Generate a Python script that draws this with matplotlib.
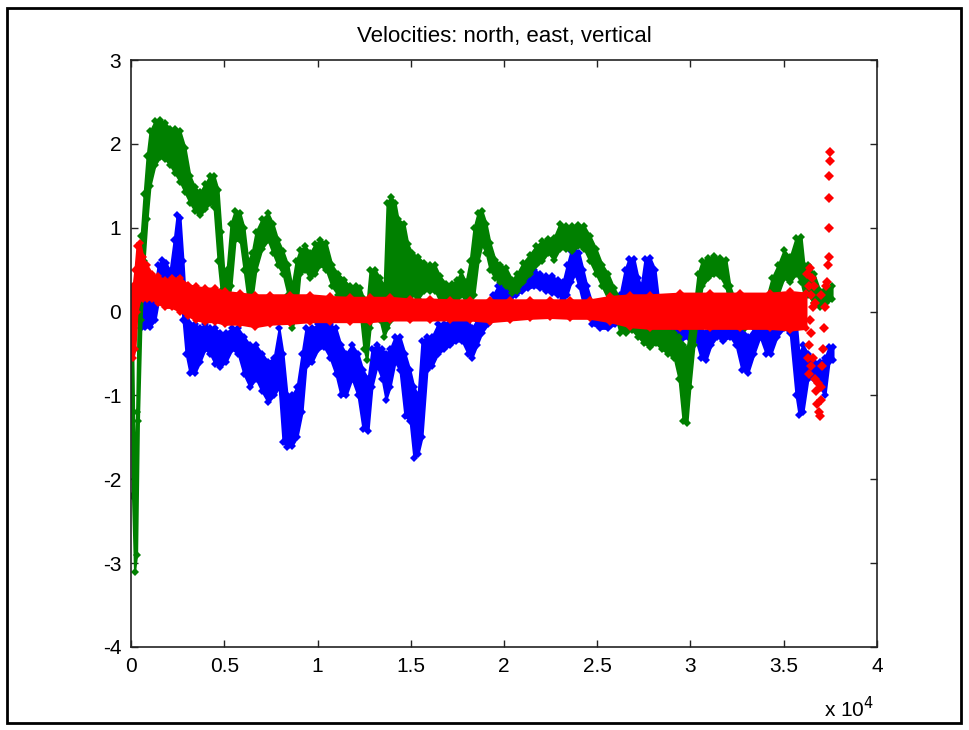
import numpy as np
import matplotlib.pyplot as plt
from matplotlib.patches import Rectangle

plt.rcParams['font.family'] = ['Liberation Sans', 'DejaVu Sans']
plt.rcParams['axes.unicode_minus'] = False

# north velocity: sample index, lower and upper edge of the plotted band
north_t = [540, 750, 1020, 1290, 1450, 1660, 1880, 2090, 2310, 2470, 2630, 2790, 2950,
           3160, 3430, 3700, 3970, 4240, 4500, 4770, 5090, 5420, 5740, 6060, 6380, 6700,
           7020, 7350, 7670, 7940, 8150, 8370, 8630, 8900, 9170, 9380, 9710, 10030, 10350,
           10670, 10990, 11260, 11530, 11850, 12170, 12440, 12710, 12920, 13190, 13460,
           13670, 13890, 14160, 14420, 14690, 14960, 15170, 15390, 15600, 15870, 16140,
           16460, 16780, 17110, 17430, 17750, 18070, 18280, 18550, 18820, 19140, 19410,
           19680, 20000, 20320, 20640, 20970, 21290, 21610, 21930, 22250, 22570, 22900,
           23160, 23380, 23590, 23810, 24020, 24240, 24450, 24720, 25150, 25580, 25950,
           26220, 26490, 26700, 26970, 27190, 27350, 27560, 27830, 28100, 28310, 28630,
           29010, 29440, 29870, 30240, 30560, 30830, 31100, 31420, 31740, 32120, 32440,
           32760, 33080, 33410, 33730, 34050, 34320, 34640, 35010, 35340, 35660, 35820,
           36030, 36300, 36620, 36940, 37210, 37430, 37640]
north_lo = [-0.20, -0.18, -0.18, -0.10, 0.10, 0.30, 0.30, 0.20, 0.30, 0.50, 0.30, -0.10, -0.50,
            -0.73, -0.73, -0.60, -0.45, -0.50, -0.62, -0.66, -0.60, -0.45, -0.50, -0.75, -0.90, -0.80,
            -0.95, -1.08, -1.00, -0.90, -1.55, -1.62, -1.60, -1.50, -1.20, -0.65, -0.60, -0.45, -0.42,
            -0.55, -0.75, -1.00, -1.00, -0.80, -1.00, -1.40, -1.42, -0.90, -0.65, -0.80,
            -1.05, -0.90, -0.60, -0.70, -1.25, -1.30, -1.75, -1.70, -1.50, -0.70, -0.65,
            -0.50, -0.45, -0.40, -0.35, -0.35, -0.50, -0.55, -0.40, -0.25, -0.15, -0.05,
            0.12, 0.15, 0.15, 0.20, 0.25, 0.28, 0.30, 0.28, 0.25, 0.22, 0.20,
            0.15, 0.20, 0.35, 0.45, 0.30, 0.10, 0.00, -0.15, -0.20, -0.20, -0.15,
            -0.10, 0.00, 0.10, 0.10, 0.00, 0.00, 0.10, 0.10, 0.00, -0.10, -0.20,
            -0.30, -0.35, -0.30, -0.30, -0.55, -0.58, -0.40, -0.30, -0.35, -0.30, -0.40,
            -0.70, -0.73, -0.50, -0.30, -0.50, -0.50, -0.30, -0.20, -0.25, -1.00, -1.23,
            -1.20, -0.80, -0.80, -0.90, -1.00, -0.60, -0.58]
north_hi = [0.10, 0.12, 0.15, 0.30, 0.55, 0.62, 0.58, 0.48, 0.85, 1.15, 1.12, 0.60, 0.00,
            -0.15, -0.15, -0.20, -0.15, -0.20, -0.20, -0.25, -0.25, -0.20, -0.20, -0.30, -0.40, -0.40,
            -0.50, -0.60, -0.55, -0.20, -0.50, -1.00, -1.00, -0.90, -0.50, -0.20, -0.20, -0.15, -0.12,
            -0.15, -0.20, -0.40, -0.50, -0.40, -0.50, -0.70, -0.80, -0.45, -0.40, -0.45,
            -0.50, -0.45, -0.30, -0.30, -0.50, -0.70, -0.90, -1.00, -0.35, -0.30, -0.30,
            -0.15, -0.15, -0.10, -0.10, -0.05, -0.10, -0.20, -0.10, 0.00, 0.05, 0.20,
            0.30, 0.32, 0.30, 0.38, 0.42, 0.45, 0.50, 0.45, 0.42, 0.42, 0.38,
            0.35, 0.55, 0.72, 0.72, 0.70, 0.50, 0.30, 0.10, 0.05, 0.05, 0.10,
            0.20, 0.50, 0.63, 0.63, 0.40, 0.30, 0.63, 0.64, 0.50, 0.10, 0.00,
            -0.05, -0.10, 0.00, 0.00, -0.20, -0.25, -0.10, -0.05, -0.10, -0.05, -0.10,
            -0.20, -0.30, -0.20, -0.05, -0.10, -0.15, -0.05, 0.00, 0.00, -0.10, -0.50,
            -0.40, -0.50, -0.60, -0.60, -0.55, -0.42, -0.42]

# east velocity
east_t = [0, 80, 190, 300, 400, 540, 700, 860, 1020, 1290, 1550, 1820, 2090, 2360, 2630,
          2900, 3160, 3430, 3700, 3970, 4240, 4450, 4670, 4830, 4990, 5150, 5360, 5580,
          5850, 6060, 6270, 6490, 6700, 7020, 7350, 7610, 7880, 8150, 8420, 8630, 8850,
          9060, 9330, 9600, 9870, 10130, 10460, 10780, 11100, 11420, 11740, 12070, 12280,
          12490, 12650, 12820, 13080, 13350, 13570, 13730, 13940, 14160, 14320, 14640,
          14850, 15070, 15390, 15710, 16030, 16300, 16570, 16890, 17210, 17480, 17700,
          17960, 18180, 18390, 18610, 18820, 19040, 19250, 19520, 19790, 20110, 20430,
          20700, 21020, 21390, 21720, 22040, 22360, 22680, 23000, 23330, 23650, 23970,
          24290, 24610, 24930, 25260, 25580, 25900, 26220, 26540, 26860, 27190, 27510,
          27830, 28150, 28470, 28790, 29120, 29380, 29600, 29810, 29970, 30190, 30400,
          30620, 30940, 31260, 31580, 31900, 32120, 32440, 32920, 33460, 34000, 34370,
          34690, 35010, 35340, 35660, 35930, 36090, 36300, 36620, 36940, 37270, 37590]
east_lo = [-0.40, -2.20, -3.10, -2.90, -1.30, -0.10, 0.60, 1.10, 1.50, 1.75, 1.84, 1.82, 1.75, 1.65, 1.55,
           1.42, 1.30, 1.20, 1.15, 1.22, 1.30, 1.25, 0.60, 0.25, 0.05, 0.05, 0.30, 0.85,
           0.85, 0.50, 0.15, 0.15, 0.50, 0.75, 0.85, 0.70, 0.55, 0.45, 0.20, -0.20, -0.05,
           0.45, 0.50, 0.40, 0.45, 0.55, 0.50, 0.30, 0.20, 0.10, 0.05, 0.05, 0.00,
           -0.45, -0.58, -0.20, 0.20, -0.10, -0.30, -0.20, -0.10, -0.05, 0.00, 0.10,
           0.15, 0.20, 0.15, 0.25, 0.25, 0.25, 0.12, 0.10, 0.10, 0.12, 0.20,
           0.12, 0.10, 0.20, 0.60, 0.80, 0.70, 0.50, 0.40, 0.35, 0.30, 0.22,
           0.25, 0.35, 0.45, 0.55, 0.60, 0.70, 0.62, 0.75, 0.75, 0.72, 0.78,
           0.75, 0.60, 0.45, 0.30, 0.15, 0.00, -0.25, -0.25, -0.22, -0.30, -0.38,
           -0.42, -0.38, -0.45, -0.50, -0.55, -0.80, -1.30, -1.33, -0.90, -0.40, -0.05,
           0.30, 0.40, 0.45, 0.42, 0.30, 0.00, -0.15, -0.20, -0.15, -0.15, -0.10,
           0.20, 0.40, 0.35, 0.45, 0.35, 0.20, 0.20, 0.10, 0.05, 0.10, 0.15]
east_hi = [0.10, -0.20, -2.00, -1.20, 0.20, 0.90, 1.40, 1.85, 2.15, 2.27, 2.28, 2.25, 2.18, 2.18, 2.15,
           1.95, 1.62, 1.48, 1.42, 1.52, 1.62, 1.62, 1.45, 0.95, 0.45, 0.50, 1.05, 1.20,
           1.17, 1.00, 0.60, 0.70, 0.95, 1.10, 1.17, 1.05, 0.85, 0.72, 0.55, 0.30, 0.60,
           0.73, 0.78, 0.70, 0.80, 0.85, 0.82, 0.55, 0.45, 0.38, 0.30, 0.30, 0.28,
           0.15, 0.10, 0.50, 0.50, 0.40, 0.30, 1.30, 1.37, 1.30, 1.10, 1.05,
           0.80, 0.70, 0.65, 0.58, 0.55, 0.55, 0.42, 0.33, 0.33, 0.38, 0.47,
           0.35, 0.60, 1.00, 1.18, 1.20, 1.05, 0.82, 0.62, 0.56, 0.52, 0.38,
           0.45, 0.58, 0.68, 0.78, 0.84, 0.87, 0.88, 1.05, 1.02, 1.02, 1.03,
           1.02, 0.90, 0.75, 0.56, 0.45, 0.28, 0.15, 0.05, 0.05, 0.00, -0.05,
           -0.12, -0.10, -0.15, -0.20, -0.25, -0.30, -0.40, -0.45, -0.20, 0.05, 0.45,
           0.60, 0.64, 0.66, 0.64, 0.62, 0.30, 0.10, 0.05, 0.08, 0.10, 0.40,
           0.55, 0.73, 0.65, 0.88, 0.89, 0.55, 0.55, 0.45, 0.25, 0.30, 0.30]

# vertical velocity
vert_t = [0, 110, 210, 320, 480, 640, 860, 1130, 1450, 1820, 2200, 2630, 3060, 3490, 3970,
          4500, 5040, 5850, 6650, 7450, 8530, 9600, 10670, 11740, 12820, 13890, 14960,
          16030, 17110, 18180, 19250, 20320, 21390, 22470, 23540, 24610, 25680, 26760,
          27830, 29440, 31050, 32650, 34260, 35340, 36190]
vert_lo = [-0.50, -0.55, -0.45, 0.00, 0.15, 0.15, 0.15, 0.15, 0.10, 0.05, 0.05, 0.00, -0.05, -0.10, -0.12,
           -0.12, -0.15, -0.15, -0.18, -0.15, -0.14, -0.12, -0.12, -0.12, -0.12, -0.10, -0.10,
           -0.10, -0.10, -0.10, -0.12, -0.10, -0.08, -0.07, -0.08, -0.08, -0.12, -0.18,
           -0.20, -0.20, -0.20, -0.20, -0.20, -0.22, -0.20]
vert_hi = [0.25, 0.30, 0.50, 0.78, 0.82, 0.65, 0.55, 0.45, 0.42, 0.38, 0.40, 0.40, 0.32, 0.30, 0.28,
           0.28, 0.24, 0.22, 0.20, 0.20, 0.20, 0.20, 0.18, 0.17, 0.17, 0.17, 0.15,
           0.15, 0.14, 0.14, 0.14, 0.14, 0.14, 0.14, 0.14, 0.14, 0.18, 0.20,
           0.20, 0.22, 0.22, 0.22, 0.22, 0.24, 0.22]

# last samples of the vertical channel, scattered
vert_tail_t = [36250, 36330, 36400, 36450, 36500, 36550, 36600, 36700, 36420, 36480, 36380,
               36300, 36450, 36350, 36550, 36650, 36750, 36800, 36880, 36930, 36980, 36850,
               37000, 37050, 37100, 37150, 37200, 37250, 37000, 37300, 37350, 37400, 37420,
               37440, 37450, 37460, 37470]
vert_tail_v = [0.45, 0.30, 0.52, 0.20, 0.40, 0.05, 0.30, 0.10, -0.10, -0.25, -0.40,
               -0.55, -0.65, -0.75, -0.55, -0.80, -0.95, -1.10, -1.20, -1.25, -1.05, -0.85,
               -0.90, -0.65, -0.45, -0.20, 0.05, 0.30, 0.20, 0.35, 0.55, 0.65, 1.00,
               1.35, 1.62, 1.80, 1.90]

fig = plt.figure(figsize=(9.69, 7.30), dpi=100)
fig.patches.append(Rectangle((7 / 969, 7 / 730), 954 / 969, 715 / 730, transform=fig.transFigure,
                             fill=False, edgecolor='black', linewidth=2))
ax = fig.add_axes([131 / 969, 83 / 730, 746 / 969, 587 / 730])

# bands drawn in plot order: north, east, vertical on top
series = [(north_t, north_lo, north_hi, '#0000ff'),
          (east_t, east_lo, east_hi, '#008000'),
          (vert_t, vert_lo, vert_hi, '#ff0000')]
for k, (t, lo, hi, c) in enumerate(series):
    z = 2 + k
    ax.fill_between(t, lo, hi, color=c, linewidth=1.5, edgecolor=c, zorder=z)
    # diamond markers along the edges give the rough marker-built outline
    ax.plot(t, lo, 'D', color=c, markersize=4, markeredgewidth=0, zorder=z)
    ax.plot(t, hi, 'D', color=c, markersize=4, markeredgewidth=0, zorder=z)
ax.plot(vert_tail_t, vert_tail_v, 'D', color='#ff0000', markersize=5.5,
        markeredgewidth=0, zorder=5)

ax.set_xlim(0, 40000)
ax.set_ylim(-4, 3)
ax.set_xticks(np.arange(0, 40001, 5000))
ax.set_xticklabels(['0', '0.5', '1', '1.5', '2', '2.5', '3', '3.5', '4'])
ax.set_yticks(np.arange(-4, 4, 1))
ax.tick_params(direction='in', length=5, width=1, top=True, right=True,
               labelsize=15, pad=7, colors='#222222', labelcolor='black')
for s in ax.spines.values():
    s.set_linewidth(1.2)
    s.set_color('#222222')
    s.set_zorder(6)
ax.set_title('Velocities: north, east, vertical', fontsize=16, pad=13)
fig.text(849 / 969, 1 - 709 / 730, r'x 10$^{4}$', fontsize=15, ha='center', va='center')

fig.savefig('out.png', dpi=100)
